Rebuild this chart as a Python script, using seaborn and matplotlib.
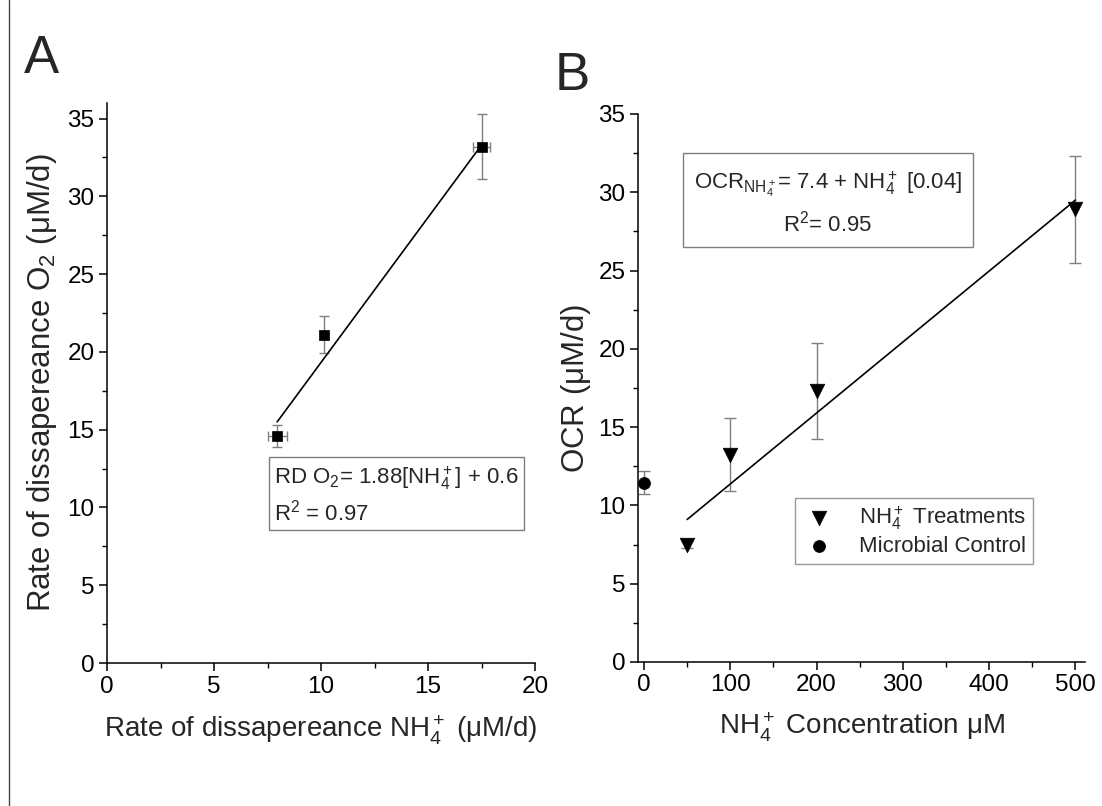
import matplotlib
matplotlib.use("Agg")
import matplotlib.pyplot as plt
import seaborn as sns
import pandas as pd
from matplotlib.lines import Line2D
from matplotlib.ticker import MultipleLocator

# ---------------- data: panel A ----------------
a_x = [7.95, 10.15, 17.5]
a_y = [14.6, 21.1, 33.2]
a_xerr = [0.45, 0.0, 0.4]
a_yerr = [0.7, 1.2, 2.1]
a_fit_x = [7.95, 17.5]
a_fit_y = [15.5, 33.3]

# ---------------- data: panel B ----------------
b_treat_x = [50, 100, 200, 500]
b_treat_y = [7.5, 13.25, 17.3, 28.9]
b_treat_err = [0.25, 2.3, 3.05, 3.4]
b_ctrl_x = [0]
b_ctrl_y = [11.45]
b_ctrl_err = [0.75]
b_fit_x = [50, 500]
b_fit_y = [9.1, 29.5]

sns.set_style("ticks")
plt.rcParams['font.family'] = ['Liberation Sans', 'DejaVu Sans']
plt.rcParams['mathtext.fontset'] = 'custom'
plt.rcParams['mathtext.rm'] = 'Liberation Sans'
plt.rcParams['mathtext.it'] = 'Liberation Sans:italic'
plt.rcParams['mathtext.bf'] = 'Liberation Sans:bold'

fig = plt.figure(figsize=(11.02, 8.06), dpi=100)
axA = fig.add_axes([0.0971, 0.1774, 0.3884, 0.6948])
axB = fig.add_axes([0.5789, 0.1787, 0.4056, 0.6799])

errc = '#7f7f7f'
tick_fs = 17.5
lab_fs = 20
ylab_fs = 22.5

def style(ax):
    sns.despine(ax=ax)
    for s in ['left', 'bottom']:
        ax.spines[s].set_linewidth(1.1)
        ax.spines[s].set_color('black')
    ax.tick_params(which='major', direction='out', length=6, width=1.1,
                   labelsize=tick_fs, colors='black', pad=3)
    ax.tick_params(which='minor', direction='out', length=3.5, width=1.0, colors='black')

# ---------- Panel A ----------
dfA = pd.DataFrame({'x': a_x, 'y': a_y})
axA.errorbar(a_x, a_y, xerr=a_xerr, yerr=a_yerr, fmt='none', ecolor=errc,
             elinewidth=1.0, capsize=3.5, capthick=1.0, zorder=2)
sns.lineplot(x=a_fit_x, y=a_fit_y, ax=axA, color='black', linewidth=1.2, zorder=3)
sns.scatterplot(data=dfA, x='x', y='y', ax=axA, marker='s', s=55, color='black',
                edgecolor='black', linewidth=0.5, zorder=4)
axA.set_xlim(0, 20)
axA.set_ylim(0, 36)
axA.xaxis.set_major_locator(MultipleLocator(5))
axA.xaxis.set_minor_locator(MultipleLocator(2.5))
axA.set_yticks([0, 5, 10, 15, 20, 25, 30, 35])
axA.yaxis.set_minor_locator(MultipleLocator(2.5))
style(axA)
axA.set_xlabel(r'Rate of dissapereance NH$_4^+$ ($\mathregular{\mu}$M/d)', fontsize=lab_fs, labelpad=12)
axA.set_ylabel(r'Rate of dissapereance O$_2$ ($\mathregular{\mu}$M/d)', fontsize=ylab_fs, labelpad=6)
axA.text(0.391, 0.300, 'RD O$_2$= 1.88[NH$_4^+$] + 0.6\nR$^2$ = 0.97', transform=axA.transAxes,
         fontsize=16, va='center', ha='left', linespacing=1.35,
         bbox=dict(boxstyle='square,pad=0.22', facecolor='white', edgecolor='#7f7f7f', linewidth=1.0))

# ---------- Panel B ----------
dfT = pd.DataFrame({'x': b_treat_x, 'y': b_treat_y})
dfC = pd.DataFrame({'x': b_ctrl_x, 'y': b_ctrl_y})
axB.errorbar(b_treat_x, b_treat_y, yerr=b_treat_err, fmt='none', ecolor=errc,
             elinewidth=1.0, capsize=4, capthick=1.0, zorder=2)
axB.errorbar(b_ctrl_x, b_ctrl_y, yerr=b_ctrl_err, fmt='none', ecolor=errc,
             elinewidth=1.0, capsize=4, capthick=1.0, zorder=2)
sns.lineplot(x=b_fit_x, y=b_fit_y, ax=axB, color='black', linewidth=1.2, zorder=3)
sns.scatterplot(data=dfT, x='x', y='y', ax=axB, marker='v', s=110, color='black',
                edgecolor='black', linewidth=0.5, zorder=4, label=r'NH$_4^+$ Treatments')
sns.scatterplot(data=dfC, x='x', y='y', ax=axB, marker='o', s=75, color='black',
                edgecolor='black', linewidth=0.5, zorder=4, label='Microbial Control')
axB.set_xlim(-7, 511)
axB.set_ylim(0, 35)
axB.xaxis.set_major_locator(MultipleLocator(100))
axB.xaxis.set_minor_locator(MultipleLocator(50))
axB.set_yticks([0, 5, 10, 15, 20, 25, 30, 35])
axB.yaxis.set_minor_locator(MultipleLocator(2.5))
style(axB)
axB.set_xlabel(r'NH$_4^+$ Concentration $\mathregular{\mu}$M', fontsize=lab_fs, labelpad=10)
axB.set_ylabel(r'OCR ($\mathregular{\mu}$M/d)', fontsize=ylab_fs, labelpad=4)
axB.text(0.425, 0.838, r'OCR$_{\mathrm{NH}_4^+}$= 7.4 + NH$_4^+$ [0.04]' + '\n' + r'R$^2$= 0.95',
         transform=axB.transAxes,
         fontsize=16, va='center', ha='center', linespacing=1.55, multialignment='center',
         bbox=dict(boxstyle='square,pad=0.5', facecolor='white', edgecolor='#7f7f7f', linewidth=1.0))
leg = axB.legend(loc='upper left', bbox_to_anchor=(0.351, 0.30), fontsize=16, frameon=True,
                 fancybox=False, edgecolor='#7f7f7f', handletextpad=1.0, borderpad=0.3,
                 labelspacing=0.2, handlelength=1.6, borderaxespad=0)
leg.get_frame().set_linewidth(1.0)

# panel letters
fig.text(0.022, 0.927, 'A', fontsize=38, ha='left', va='center')
fig.text(0.503, 0.906, 'B', fontsize=38, ha='left', va='center')

# left border line of the original figure
fig.add_artist(Line2D([0.0085, 0.0085], [0.0, 1.0], transform=fig.transFigure,
                      color='#444444', linewidth=1.0))

fig.savefig('out.png', dpi=100)
